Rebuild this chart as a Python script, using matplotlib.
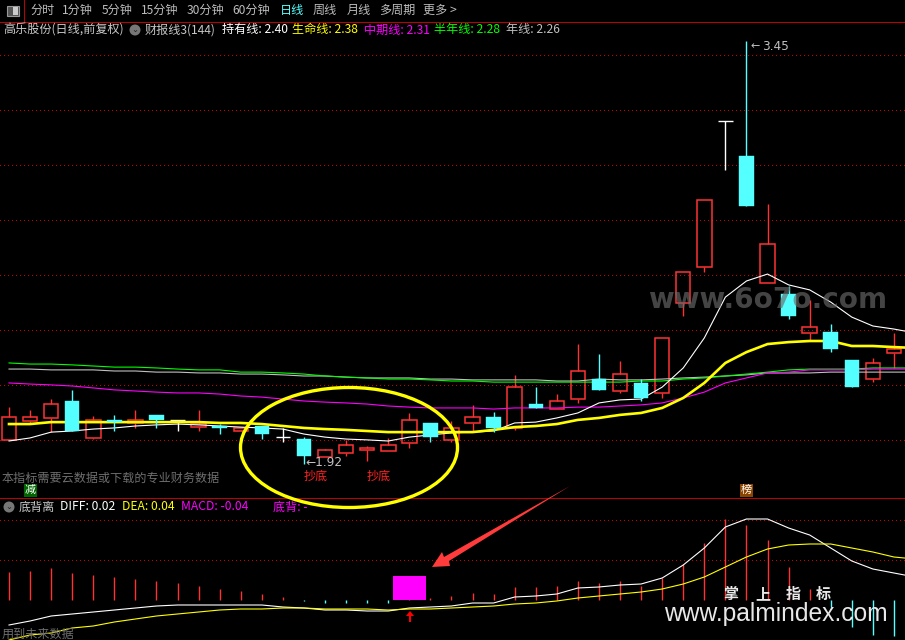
import numpy as np
import matplotlib
matplotlib.use("Agg")
import matplotlib.pyplot as plt
from matplotlib.patches import Ellipse, Polygon, Rectangle, Circle

plt.rcParams['font.family'] = ['Noto Sans CJK SC', 'DejaVu Sans']

# --- candles (price) ---
open_ = [2.014,2.082,2.093,2.154,2.021,2.086,2.075,2.104,2.086,2.060,2.064,2.046,2.064,2.024,2.017,1.952,1.967,1.978,1.974,2.003,2.075,2.014,2.075,2.096,2.057,2.143,2.125,2.161,2.233,2.190,2.219,2.183,2.507,2.636,3.162,3.036,2.579,2.539,2.399,2.402,2.302,2.233,2.327]
close = [2.096,2.096,2.143,2.046,2.086,2.078,2.086,2.086,2.086,2.071,2.057,2.057,2.035,2.024,1.956,1.978,1.996,1.985,1.996,2.086,2.024,2.057,2.096,2.057,2.204,2.129,2.154,2.262,2.194,2.251,2.165,2.381,2.618,2.878,3.162,2.856,2.719,2.460,2.420,2.341,2.204,2.291,2.341]
high  = [2.132,2.122,2.161,2.194,2.100,2.104,2.122,2.104,2.086,2.122,2.071,2.057,2.064,2.057,2.024,1.981,2.014,1.992,2.021,2.111,2.075,2.082,2.140,2.114,2.248,2.204,2.179,2.359,2.323,2.298,2.233,2.381,2.618,2.878,3.162,3.45,2.863,2.568,2.518,2.431,2.302,2.309,2.399]
low   = [2.014,2.075,2.042,2.046,2.017,2.046,2.057,2.057,2.046,2.046,2.035,2.046,2.017,2.006,1.927,1.952,1.956,1.938,1.974,1.985,2.006,2.006,2.042,2.042,2.050,2.129,2.125,2.147,2.194,2.183,2.154,2.165,2.460,2.618,2.986,2.856,2.579,2.449,2.370,2.330,2.204,2.222,2.273]

# --- moving lines (price) ---
hold_line = [2.010,2.021,2.042,2.046,2.053,2.057,2.064,2.068,2.071,2.068,2.064,2.060,2.057,2.053,2.035,2.024,2.017,2.014,2.010,2.024,2.032,2.039,2.042,2.046,2.075,2.078,2.093,2.111,2.147,2.158,2.161,2.204,2.273,2.381,2.528,2.586,2.611,2.572,2.554,2.510,2.456,2.424,2.413,2.399]
life_line = [2.071,2.071,2.078,2.078,2.078,2.078,2.078,2.078,2.078,2.078,2.075,2.075,2.071,2.064,2.057,2.053,2.050,2.046,2.042,2.042,2.042,2.042,2.042,2.050,2.060,2.064,2.071,2.086,2.093,2.104,2.111,2.129,2.165,2.219,2.291,2.330,2.359,2.366,2.370,2.370,2.352,2.352,2.348,2.345]
mid_line = [2.219,2.215,2.212,2.208,2.201,2.194,2.190,2.186,2.183,2.183,2.179,2.172,2.168,2.161,2.154,2.150,2.147,2.143,2.136,2.132,2.129,2.129,2.129,2.125,2.129,2.129,2.129,2.132,2.132,2.136,2.140,2.147,2.165,2.186,2.219,2.237,2.255,2.258,2.266,2.266,2.266,2.269,2.269,2.269]
half_line = [2.291,2.287,2.287,2.284,2.280,2.276,2.276,2.273,2.269,2.266,2.266,2.258,2.258,2.255,2.251,2.244,2.240,2.237,2.233,2.233,2.230,2.226,2.226,2.222,2.222,2.222,2.222,2.222,2.222,2.222,2.226,2.226,2.233,2.237,2.244,2.251,2.258,2.266,2.269,2.269,2.269,2.273,2.273,2.273]
year_line = [2.269,2.269,2.266,2.266,2.266,2.262,2.262,2.258,2.258,2.255,2.255,2.251,2.251,2.248,2.244,2.244,2.240,2.237,2.237,2.237,2.233,2.233,2.230,2.230,2.230,2.230,2.226,2.226,2.233,2.230,2.230,2.233,2.237,2.240,2.244,2.248,2.255,2.255,2.255,2.258,2.258,2.258,2.258,2.258]

# --- lower panel ---
diff = [-0.0625,-0.0525,-0.04,-0.035,-0.03,-0.025,-0.02,-0.015,-0.0125,-0.0125,-0.0125,-0.0125,-0.0125,-0.0175,-0.02,-0.025,-0.025,-0.0275,-0.0275,-0.02,-0.0175,-0.015,-0.0075,-0.0075,0.0075,0.01,0.015,0.03,0.0325,0.0375,0.04,0.055,0.0875,0.13,0.1825,0.2025,0.2025,0.18,0.1625,0.13,0.0975,0.0775,0.0675,0.0575]
dea = [-0.1,-0.0875,-0.0825,-0.07,-0.065,-0.055,-0.0475,-0.04,-0.035,-0.03,-0.025,-0.0225,-0.0225,-0.02,-0.02,-0.0225,-0.0225,-0.0225,-0.025,-0.0225,-0.0225,-0.02,-0.0175,-0.015,-0.01,-0.0075,-0.0025,0.005,0.01,0.015,0.02,0.0275,0.04,0.0575,0.0825,0.1075,0.1275,0.1375,0.14,0.14,0.13,0.12,0.1075,0.1025]
macd = [0.07,0.0725,0.08,0.0675,0.0625,0.0575,0.0525,0.0475,0.0425,0.035,0.0275,0.0225,0.015,0.0075,-0.0025,-0.0075,-0.0075,-0.0075,-0.0075,0.0025,0.005,0.01,0.0175,0.015,0.0325,0.0325,0.035,0.0475,0.0425,0.0475,0.035,0.055,0.09,0.1425,0.2025,0.1875,0.15,0.0825,0.0275,-0.0175,-0.0675,-0.0875,-0.09]
signal_bar = 19
signal_height = [0.06]

price_grid = [3.400, 3.202, 3.004, 2.806, 2.608, 2.410, 2.212, 2.014]
macd_grid = [0.2, 0.1]

top_menu = [("分时",30),("1分钟",62),("5分钟",102),("15分钟",141),("30分钟",187),("60分钟",232),("日线",280),("周线",313),("月线",347),("多周期",379),("更多 >",423)]
title_row = [("高乐股份(日线,前复权)",3.6,'#c8c8c8'),("财报线3(144)",144.5,'#c8c8c8'),("持有线: 2.40",222,'#ffffff'),("生命线: 2.38",292,'#ffff00'),("中期线: 2.31",364,'#ff00ff'),("半年线: 2.28",434,'#00ff00'),("年线: 2.26",506,'#c0c0c0')]
lower_row = [("底背离",19,'#c8c8c8'),("DIFF: 0.02",60,'#ffffff'),("DEA: 0.04",122,'#ffff00'),("MACD: -0.04",181,'#ff00ff'),("底背: -",273,'#ff00ff')]
brand_chars = [("掌",723),("上",755),("指",786),("标",816)]

RED, CYAN = '#ff3232', '#54ffff'
BW = 14.5 / 21.07
W, H = 905, 640
THIN = 0.72
WICK = 1.0
CURVE = 0.8
DOT = (0, (1, 3.2))
fig = plt.figure(figsize=(W/100, H/100), dpi=100, facecolor='black')

def frame(top, bottom, ylo, yhi):
    a = fig.add_axes([0, (H-bottom)/H, 1, (bottom-top)/H], facecolor='black')
    a.set_xlim(-9/21.07, (905-9)/21.07)
    a.set_ylim(ylo, yhi)
    a.axis('off')
    return a

ax = frame(22, 498, 3.5976-0.0036*498, 3.5976-0.0036*22)
for g in price_grid:
    ax.axhline(g, color='#d00000', lw=THIN, ls=DOT, zorder=1, antialiased=False)

for i, (o, c, h, l) in enumerate(zip(open_, close, high, low)):
    top, bot = max(o, c), min(o, c)
    if o == c:
        ax.vlines(i, l, h, color='white', lw=WICK, zorder=2)
        ax.hlines(o, i-BW/2, i+BW/2, color='white', lw=WICK, zorder=2)
    elif c > o:
        ax.vlines(i, top, h, color=RED, lw=WICK, zorder=2)
        ax.vlines(i, l, bot, color=RED, lw=WICK, zorder=2)
        ax.bar(i, top-bot, BW, bot, facecolor='none', edgecolor=RED, lw=1.1, zorder=2)
    else:
        ax.vlines(i, l, h, color=CYAN, lw=WICK, zorder=4)
        ax.bar(i, top-bot, BW, bot, facecolor=CYAN, edgecolor=CYAN, lw=0.3, zorder=4)

xs = np.arange(len(hold_line))
ax.plot(xs, year_line, color='#c0c0c0', lw=CURVE, zorder=3)
ax.plot(xs, half_line, color='#00ff00', lw=CURVE, zorder=3)
ax.plot(xs, mid_line, color='#ff00ff', lw=CURVE, zorder=3)
ax.plot(xs, hold_line, color='white', lw=CURVE, zorder=3)
ax.plot(xs, life_line, color='#ffff00', lw=1.9, zorder=3)

bx = frame(498, 640, -0.1, 0.255)
for g in macd_grid:
    bx.axhline(g, color='#d00000', lw=THIN, ls=DOT, zorder=1, antialiased=False)
for i, m in enumerate(macd):
    bx.vlines(i, 0, m, color=RED if m > 0 else CYAN, lw=WICK, zorder=2)
bx.bar(signal_bar, signal_height, 33/21.07, 0, color='#ff00ff', zorder=3)
bx.plot(xs, diff, color='white', lw=CURVE, zorder=3)
bx.plot(xs, dea, color='#ffff00', lw=CURVE, zorder=3)

# overlay in figure pixels for the terminal's decorations and text
ov = fig.add_axes([0, 0, 1, 1], facecolor='none')
ov.set_xlim(0, W); ov.set_ylim(H, 0); ov.axis('off')
ov.axhline(21.5, color='#c00000', lw=THIN, antialiased=False)
ov.axhline(498, color='#c00000', lw=THIN, antialiased=False)
ov.vlines(24, 0, 21, color='#c00000', lw=THIN, antialiased=False)
ov.add_patch(Rectangle((6.5, 6), 12, 10, fc='#555555', ec='#999999', lw=0.8))
ov.add_patch(Rectangle((13, 7), 5, 8, fc='#cccccc', ec='none'))

FS = 8.7
for t, x in top_menu:
    ov.text(x, 10.5, t, color='#54ffff' if t == "日线" else '#bdbdbd', fontsize=FS, va='center', ha='left')
for t, x, c in title_row:
    ov.text(x, 30, t, color=c, fontsize=FS, va='center', ha='left')
for t, x, c in lower_row:
    ov.text(x, 507, t, color=c, fontsize=FS, va='center', ha='left')
for cx, cy in [(135, 30), (9, 507)]:
    ov.add_patch(Circle((cx, cy), 5.5, fc='#777777', ec='none'))
    ov.text(cx, cy-0.5, "⌄", color='#222222', fontsize=6, ha='center', va='center', family='DejaVu Sans')

ov.text(2, 478, "本指标需要云数据或下载的专业财务数据", color='#6e6e6e', fontsize=8.7, va='center')
ov.text(2, 634, "用到未来数据", color='#6e6e6e', fontsize=8.7, va='center')
for x in (304, 367):
    ov.text(x, 476, "抄底", color='#ff2020', fontsize=8.7, va='center')
ov.text(305, 462, "←1.92", color='#c0c0c0', fontsize=8.7, va='center', family='DejaVu Sans')
ov.text(750, 46, "←", color='#c0c0c0', fontsize=8, va='center', family='DejaVu Sans')
ov.text(762, 47, "3.45", color='#c0c0c0', fontsize=8.7, va='center', family='DejaVu Sans')

for x, t, fc in [(24, "减", '#006400'), (740, "榜", '#8b4500')]:
    ov.add_patch(Rectangle((x, 484), 13, 13, fc=fc, ec='none', zorder=5))
    ov.text(x+6.5, 490, t, color='white', fontsize=8, ha='center', va='center', zorder=6)

ov.add_patch(Ellipse((349, 447.5), 217, 120, fc='none', ec='#ffff00', lw=2.4, zorder=6))
ov.add_patch(Polygon([(570, 486), (449, 561), (450, 566), (432, 567), (442, 552), (444, 557)],
                     closed=True, fc='#ff3b3b', ec='none', zorder=6))
ov.add_patch(Polygon([(410, 611), (406, 616), (409, 616), (409, 622), (411, 622), (411, 616), (414, 616)],
                     closed=True, fc='#ff0000', ec='none', zorder=6))

ov.text(648, 300, "www.6o7o.com", color='#6a6a6a', alpha=0.65, fontsize=20.1, fontweight='bold',
        va='center', family='DejaVu Sans', zorder=7)
for t, x in brand_chars:
    ov.text(x, 594, t, color='#e8e8e8', fontsize=10.8, fontweight='bold', va='center', zorder=7)
ov.text(664, 614, "www.palmindex.com", color='#e8e8e8', fontsize=17.7, va='center', family='Liberation Sans', zorder=7)

fig.savefig('out.png', dpi=100, facecolor='black')
